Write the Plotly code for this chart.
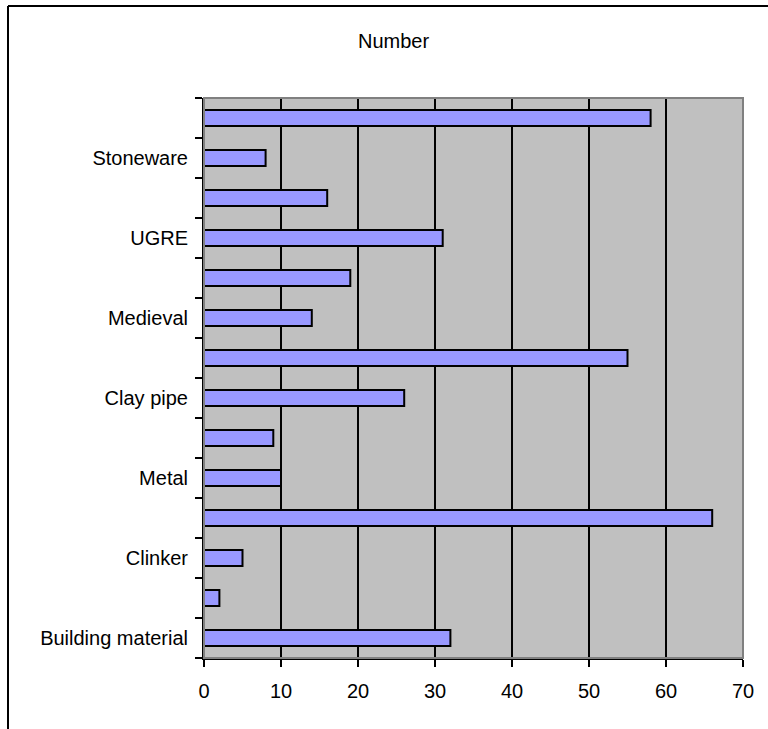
import plotly.graph_objects as go

# Categories bottom -> top (only every other label is printed in the reference)
categories = ["Building material", "(unlabelled 1)", "Clinker", "(unlabelled 2)", "Metal",
              "(unlabelled 3)", "Clay pipe", "(unlabelled 4)", "Medieval", "(unlabelled 5)",
              "UGRE", "(unlabelled 6)", "Stoneware", "(unlabelled 7)"]
tick_labels = ["Building material", "", "Clinker", "", "Metal", "", "Clay pipe", "",
               "Medieval", "", "UGRE", "", "Stoneware", ""]
values = [32, 2, 5, 66, 10, 9, 26, 55, 14, 19, 31, 16, 8, 58]
x_ticks = [0, 10, 20, 30, 40, 50, 60, 70]
title_text = "Number"

W, H = 768, 729
L, R, T, B = 204, 25, 98, 71
pw, ph = W - L - R, H - T - B

def px_x(p):
    return (p - L) / pw

def px_y(p):
    return 1 - (p - T) / ph

font = dict(family="Arial, Liberation Sans, sans-serif", size=20, color="black")

fig = go.Figure(go.Bar(
    x=values, y=categories, orientation="h",
    marker=dict(color="#9999FF", line=dict(color="black", width=2)),
    width=0.4,
))

fig.update_layout(
    width=W, height=H,
    margin=dict(l=L, r=R, t=T, b=B, pad=0),
    paper_bgcolor="white", plot_bgcolor="#C0C0C0",
    font=font, showlegend=False,
    annotations=[dict(text=title_text, xref="paper", yref="paper",
                      x=px_x(393), y=px_y(41), xanchor="center", yanchor="middle",
                      showarrow=False, font=font)],
    shapes=[
        # plot area grey frame (top/right)
        dict(type="rect", xref="paper", yref="paper", x0=0, x1=1, y0=0, y1=1,
             line=dict(color="#808080", width=2), layer="above"),
        # outer chart border (left and top visible)
        dict(type="line", xref="paper", yref="paper", x0=px_x(8), x1=px_x(8),
             y0=px_y(6), y1=px_y(760), line=dict(color="black", width=2)),
        dict(type="line", xref="paper", yref="paper", x0=px_x(8), x1=px_x(800),
             y0=px_y(6), y1=px_y(6), line=dict(color="black", width=2)),
    ],
)

fig.update_xaxes(
    range=[0, 70], tickmode="array", tickvals=x_ticks,
    showgrid=True, gridcolor="black", gridwidth=1.5,
    showline=True, linecolor="black", linewidth=2,
    ticks="outside", ticklen=7, tickwidth=2, tickcolor="black",
    zeroline=False, ticklabelstandoff=7,
)
fig.update_yaxes(
    type="category", categoryorder="array", categoryarray=categories,
    tickmode="array", tickvals=categories, ticktext=tick_labels,
    tickson="boundaries", showgrid=False,
    showline=True, linecolor="black", linewidth=2,
    ticks="outside", ticklen=7, tickwidth=2, tickcolor="black",
    ticklabelstandoff=10, range=[-0.5, len(categories) - 0.5],
)

fig.write_html("out.html")
